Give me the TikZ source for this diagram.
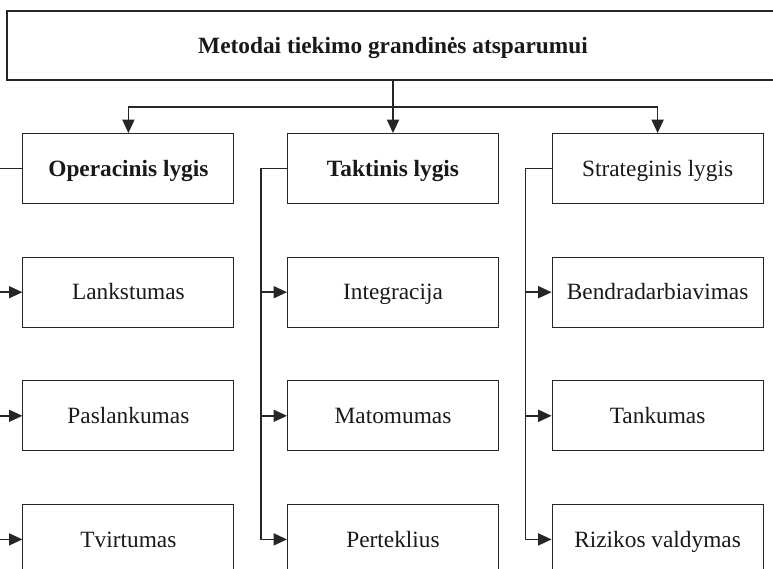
\documentclass[tikz,border=0pt]{standalone}
\usepackage{fontspec}
\setmainfont{Liberation Serif}
\usetikzlibrary{arrows.meta, positioning}

\begin{document}
\begin{tikzpicture}[
    x=0.75pt, y=-0.75pt,
    node distance=39.4pt,
    every node/.style={draw=black!85, line width=0.8pt, text=black!90, inner sep=0pt,
      text height=14.5pt, text depth=3pt, font=\fontsize{17.5}{20}\selectfont},
    box/.style={minimum width=158.25pt, minimum height=52.5pt},
    head/.style={box, font=\fontsize{17.5}{20}\selectfont\bfseries},
    link/.style={draw=black!85, line width=1.1pt, -{Triangle[length=10pt, width=9pt]}}
  ]
  \clip (0,0) rectangle (773,568);

  % top and the three levels
  \node[minimum width=579pt, minimum height=51.75pt, font=\fontsize{17.5}{20}\selectfont\bfseries] (root) at (393,45.5) {Metodai tiekimo grandinės atsparumui};
  \node[head, below=of root] (tak) {Taktinis lygis};
  \node[head, left=of tak] (op) {Operacinis lygis};
  \node[box, right=of tak] (str) {Strateginis lygis};

  % methods of every level
  \node[box, below=of op] (lank) {Lankstumas};
  \node[box, below=of lank] (pasl) {Paslankumas};
  \node[box, below=of pasl] (tvir) {Tvirtumas};
  \node[box, below=of tak] (integ) {Integracija};
  \node[box, below=of integ] (mato) {Matomumas};
  \node[box, below=of mato] (pert) {Perteklius};
  \node[box, below=of str] (bendr) {Bendradarbiavimas};
  \node[box, below=of bendr] (tank) {Tankumas};
  \node[box, below=of tank] (rizik) {Rizikos valdymas};

  \draw[link] (root.south) -- (tak.north);
  \draw[link] (root.south) ++(0,26.25) -| (op.north);
  \draw[link] (root.south) ++(0,26.25) -| (str.north);

  \foreach \lvl/\kid in {op/lank, op/pasl, op/tvir, tak/integ, tak/mato, tak/pert, str/bendr, str/tank, str/rizik}
    \draw[link] (\lvl.west) -- ++(-26,0) |- (\kid.west);
\end{tikzpicture}
\end{document}
